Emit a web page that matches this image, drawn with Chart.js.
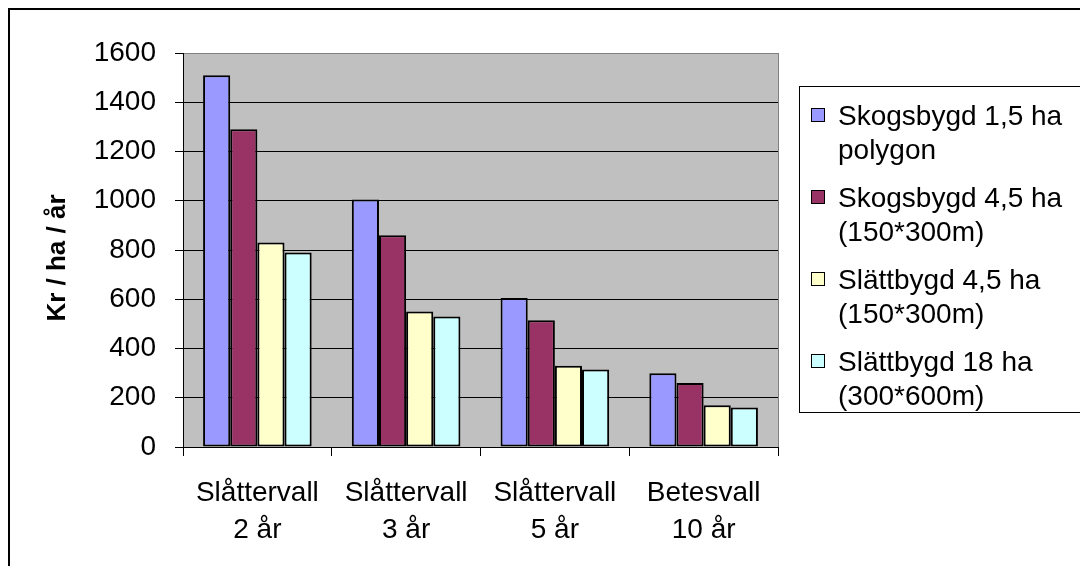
<!DOCTYPE html>
<html>
<head>
<meta charset="utf-8">
<script src="https://cdn.jsdelivr.net/npm/chart.js@4.4.1/dist/chart.umd.min.js"></script>
<style>
  html, body { margin: 0; padding: 0; background: #ffffff; }
  canvas { display: block; }
</style>
</head>
<body>
<canvas id="chart" width="1080" height="566"></canvas>
<script>
// Kostnad per hektar och år för olika vallar och fältstorlekar
const categories = [
  ['Slåttervall', '2 år'],
  ['Slåttervall', '3 år'],
  ['Slåttervall', '5 år'],
  ['Betesvall', '10 år']
];
const seriesNames = [
  ['Skogsbygd 1,5 ha', 'polygon'],
  ['Skogsbygd 4,5 ha', '(150*300m)'],
  ['Slättbygd 4,5 ha', '(150*300m)'],
  ['Slättbygd 18 ha', '(300*600m)']
];
const skogsbygd15 = [1510, 1005, 605, 300];
const skogsbygd45 = [1290, 860, 515, 260];
const slattbygd45 = [830, 550, 330, 170];
const slattbygd18 = [790, 530, 315, 160];
const yTicks = [0, 200, 400, 600, 800, 1000, 1200, 1400, 1600];
const yTitle = 'Kr / ha / år';

const seriesValues = [skogsbygd15, skogsbygd45, slattbygd45, slattbygd18];
const seriesColors = ['#9999FF', '#993366', '#FFFFCC', '#CCFFFF'];
const FONT = '"Liberation Sans", Arial, sans-serif';

// Grey plot area behind the bars
const plotBackground = {
  id: 'plotBackground',
  beforeDraw(chart) {
    const { ctx, chartArea: a } = chart;
    ctx.save();
    ctx.fillStyle = '#C0C0C0';
    ctx.fillRect(a.left, a.top, a.right - a.left, a.bottom - a.top);
    ctx.restore();
  }
};

// Outer frame, plot frame, y-axis title and the boxed legend
const decorations = {
  id: 'decorations',
  afterDraw(chart) {
    const { ctx, chartArea: a } = chart;
    ctx.save();

    // outer chart frame (top and left edges lie inside the canvas)
    ctx.strokeStyle = '#000000';
    ctx.lineWidth = 2;
    ctx.strokeRect(9, 9, 1200, 700);

    // right edge of plot area
    ctx.strokeStyle = '#808080';
    ctx.lineWidth = 1;
    ctx.beginPath();
    ctx.moveTo(Math.round(a.right) + 0.5, a.top);
    ctx.lineTo(Math.round(a.right) + 0.5, a.bottom);
    ctx.stroke();

    // y-axis title
    ctx.fillStyle = '#000000';
    ctx.font = 'bold 26px ' + FONT;
    ctx.textAlign = 'center';
    ctx.textBaseline = 'alphabetic';
    ctx.save();
    ctx.translate(65, (a.top + a.bottom) / 2 + 8);
    ctx.rotate(-Math.PI / 2);
    ctx.fillText(yTitle, 0, 0);
    ctx.restore();

    // legend box
    const boxLeft = 799.5, boxTop = 86.5, boxBottom = 412.5;
    ctx.strokeStyle = '#000000';
    ctx.lineWidth = 1;
    ctx.strokeRect(boxLeft, boxTop, 400, boxBottom - boxTop);

    ctx.font = '28px ' + FONT;
    ctx.textAlign = 'left';
    ctx.textBaseline = 'alphabetic';
    const firstBaseline = 125, entryStep = 82, lineStep = 34;
    chart.data.datasets.forEach((ds, i) => {
      const base = firstBaseline + i * entryStep;
      ctx.fillStyle = ds.backgroundColor;
      ctx.fillRect(811, base - 17, 13, 13);
      ctx.strokeStyle = '#000000';
      ctx.lineWidth = 1;
      ctx.strokeRect(811.5, base - 16.5, 13, 13);
      ctx.fillStyle = '#000000';
      seriesNames[i].forEach((line, j) => {
        ctx.fillText(line, 838, base + j * lineStep);
      });
    });

    ctx.restore();
  }
};

new Chart(document.getElementById('chart'), {
  type: 'bar',
  data: {
    labels: categories,
    datasets: seriesValues.map((values, i) => ({
      label: seriesNames[i].join(' '),
      data: values,
      backgroundColor: seriesColors[i],
      borderColor: '#000000',
      borderWidth: 2,
      borderSkipped: false,
      categoryPercentage: 0.73,
      barPercentage: 1.0
    }))
  },
  options: {
    responsive: false,
    devicePixelRatio: 1,
    animation: false,
    layout: { padding: { top: 53, right: 302, bottom: 0, left: 0 } },
    plugins: {
      legend: { display: false },
      tooltip: { enabled: false },
      title: { display: false }
    },
    scales: {
      x: {
        grid: {
          offset: true,
          drawOnChartArea: false,
          drawTicks: true,
          tickLength: 9,
          tickColor: '#000000'
        },
        border: { display: true, color: '#000000', width: 1 },
        ticks: {
          color: '#000000',
          font: { family: FONT, size: 28, lineHeight: 1.32 },
          padding: 19,
          maxRotation: 0,
          minRotation: 0,
          autoSkip: false
        },
        afterFit(scale) { scale.height = 119; }
      },
      y: {
        min: 0,
        max: 1600,
        afterBuildTicks(scale) { scale.ticks = yTicks.map(v => ({ value: v })); },
        grid: {
          color: ctx => (ctx.tick && ctx.tick.value === 1600 ? '#808080' : '#000000'),
          lineWidth: 1,
          drawTicks: true,
          tickLength: 8,
          tickColor: '#000000'
        },
        border: { display: true, color: '#000000', width: 1 },
        ticks: {
          color: '#000000',
          font: { family: FONT, size: 28 },
          padding: 19,
          callback: value => String(value)
        },
        afterFit(scale) { scale.width = 183; }
      }
    }
  },
  plugins: [plotBackground, decorations]
});
</script>
</body>
</html>
